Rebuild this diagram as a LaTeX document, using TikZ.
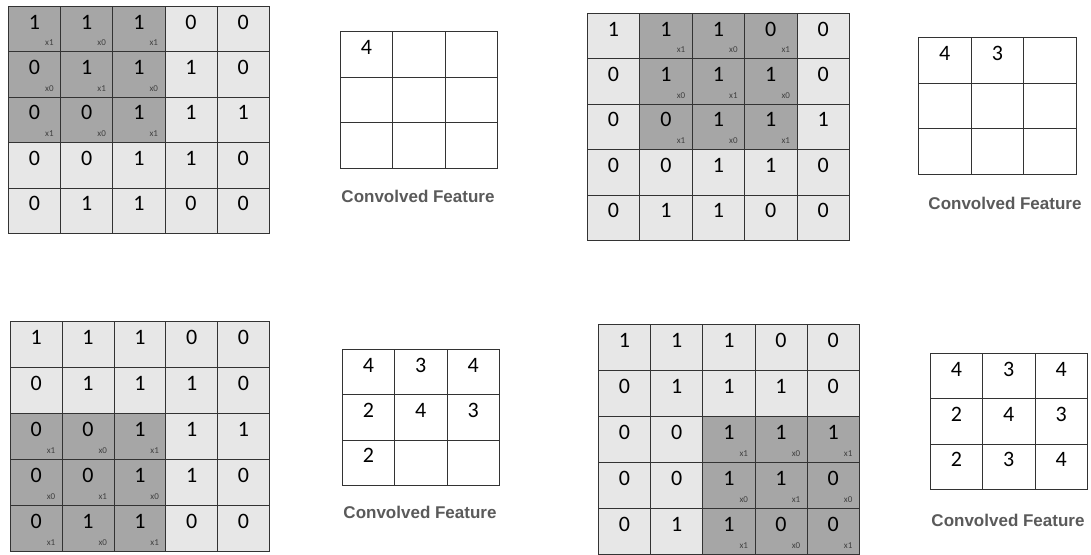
\documentclass[tikz,border=0pt]{standalone}
\usepackage{fontspec}
\setmainfont{Carlito}
\newfontfamily\labfont{Liberation Sans}
\definecolor{lightc}{HTML}{E7E7E7}
\definecolor{darkc}{HTML}{A6A6A6}
\definecolor{linec}{HTML}{333333}
\definecolor{labc}{HTML}{5A5A5A}
\tikzset{
  cell/.style={draw=linec, line width=0.7pt, rectangle, inner sep=0pt, anchor=north west},
  digit/.style={font=\fontsize{22}{22}\selectfont, text=black, inner sep=0pt},
  wsub/.style={font=\fontsize{9}{9}\selectfont, text=black!75, inner sep=0pt},
  lab/.style={font=\labfont\bfseries\fontsize{17}{17}\selectfont, text=labc, inner sep=0pt}
}
\newcommand{\ingrid}[7]{%
  \foreach \r in {1,...,5} {
    \foreach \c in {1,...,5} {
      \pgfmathtruncatemacro\v{{1,1,1,0,0,0,1,1,1,0,0,0,1,1,1,0,0,1,1,0,0,1,1,0,0}[(\r-1)*5+\c-1]}
      \pgfmathtruncatemacro\inside{and(and(\r>=#6,\r<=#6+2),and(\c>=#7,\c<=#7+2))}
      \pgfmathtruncatemacro\k{1-mod(\r-#6+\c-#7,2)}
      \pgfmathsetmacro\xx{#2+(\c-1)*#4}
      \pgfmathsetmacro\yy{#3+(\r-1)*#5}
      \ifnum\inside=1 \def\fc{darkc}\else\def\fc{lightc}\fi
      \node[cell, fill=\fc, minimum width=#4pt, minimum height=#5pt] (#1-\r-\c) at (\xx,\yy) {};
      \node[digit] (#1-\r-\c-v) at ([yshift=-16pt]#1-\r-\c.north) {\v};
      \ifnum\inside=1
        \node[wsub] (#1-\r-\c-k) at ([xshift=-11.5pt,yshift=9pt]#1-\r-\c.south east) {x\k};
      \fi
    }
  }
}
\newcommand{\outgrid}[8]{%
  \foreach \val [count=\i from 0] in {#6} {
    \pgfmathtruncatemacro\rr{int(\i/3)}
    \pgfmathtruncatemacro\cc{mod(\i,3)}
    \pgfmathsetmacro\xx{#2+\cc*#4}
    \pgfmathsetmacro\yy{#3+\rr*#5}
    \node[cell, fill=white, minimum width=#4pt, minimum height=#5pt] (#1-\i) at (\xx,\yy) {};
    \node[digit] (#1-\i-v) at ([yshift=-16pt]#1-\i.north) {\val};
  }
  \node[lab] (#1-lab) at (#7,#8) {Convolved Feature};
}
\begin{document}
\begin{tikzpicture}[x=1pt,y=-1pt]
\useasboundingbox[fill=white] (0,0) rectangle (1091,554);
\ingrid{ga}{8}{6}{52.2}{45.4}{1}{1}
\outgrid{oa}{340}{31}{52.3}{45.7}{4,{},{},{},{},{},{},{},{}}{418}{196}
\ingrid{gb}{587}{13}{52.4}{45.4}{1}{2}
\outgrid{ob}{918}{37}{52.7}{45.7}{4,3,{},{},{},{},{},{},{}}{1005}{203}
\ingrid{gc}{10}{321}{51.8}{46}{3}{1}
\outgrid{oc}{342}{349}{52.3}{45.3}{4,3,4,2,4,3,2,{},{}}{420}{512}
\ingrid{gd}{598}{324}{52.2}{46}{3}{3}
\outgrid{od}{930}{353}{52.3}{45.3}{4,3,4,2,4,3,2,3,4}{1008}{520}
\end{tikzpicture}
\end{document}
